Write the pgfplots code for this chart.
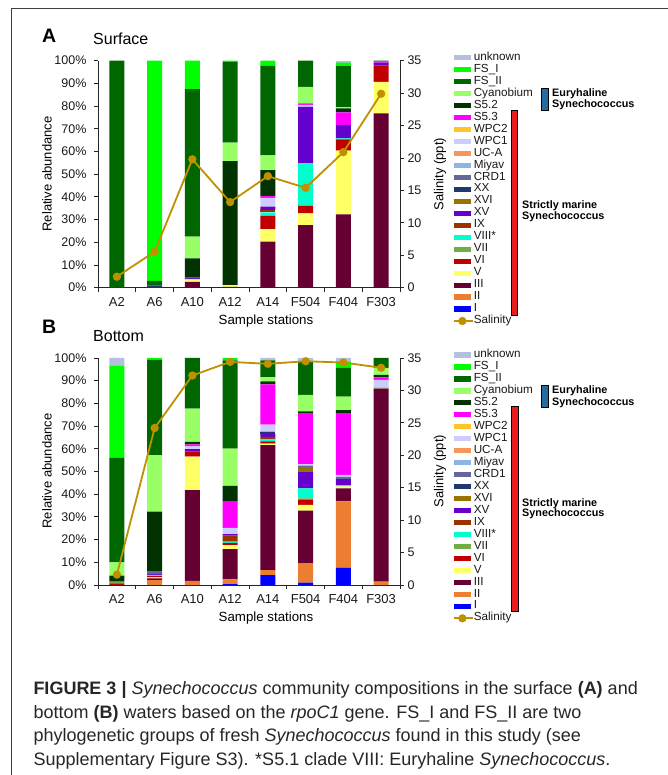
\documentclass[border=0pt]{standalone}
\usepackage{fontspec}
\setmainfont{Liberation Sans}
\usepackage{pgfplots}
\pgfplotsset{compat=1.18}
\usepackage{pgfplotstable}

\definecolor{cunk}{RGB}{180,192,222}
\definecolor{cFSa}{RGB}{0,255,0}
\definecolor{cFSb}{RGB}{0,102,0}
\definecolor{cCy}{RGB}{153,255,102}
\definecolor{cSb}{RGB}{0,51,0}
\definecolor{cSc}{RGB}{255,0,255}
\definecolor{cWPb}{RGB}{255,196,40}
\definecolor{cWPa}{RGB}{204,204,255}
\definecolor{cUCA}{RGB}{247,150,90}
\definecolor{cMiy}{RGB}{141,180,226}
\definecolor{cCRD}{RGB}{102,102,153}
\definecolor{cXX}{RGB}{31,56,110}
\definecolor{cXVI}{RGB}{153,115,0}
\definecolor{cXV}{RGB}{102,0,204}
\definecolor{cIX}{RGB}{153,51,0}
\definecolor{cVIII}{RGB}{0,255,204}
\definecolor{cVII}{RGB}{112,173,71}
\definecolor{cVI}{RGB}{192,0,0}
\definecolor{cV}{RGB}{255,255,102}
\definecolor{cIII}{RGB}{102,0,51}
\definecolor{cII}{RGB}{237,125,49}
\definecolor{cI}{RGB}{0,0,255}
\definecolor{csal}{RGB}{191,144,0}
\definecolor{cbox}{RGB}{35,110,160}
\definecolor{cred}{RGB}{232,30,30}

% columns: I II III V VI VII VIII IX | XV XVI XX CRD Miy UCA WPa WPb | Sc Sb Cy FSb FSa unk
\pgfplotstableread{
x I II III V VI VII VIII IX XV XVI XX CRD Miy UCA WPa WPb Sc Sb Cy FSb FSa unk
0 0 0 0 0 0 0 0 0    0 0 0 0 0 0 0 0    0 0 0 100 0 0
1 0 0 0 0 0 0 0 0    0 0 1.0 0 0 0 0 0    0 0 0 2.0 97.0 0
2 0 0 2.6 1.0 0 0 0.3 0    0.5 0 0.4 0 0 0 0 0    0 8.1 9.6 65.0 12.5 0
3 0 0 0.4 0.7 0 0 0 0    0 0 0 0 0 0 0 0    0 54.7 8.1 35.7 0.4 0
4 0 0 20.3 5.5 5.8 0 1.6 1.0    1.5 0 0 0 0 0 3.9 0    0.9 11.3 6.5 39.4 2.3 0
5 0 0 27.6 5.1 3.3 0 18.8 0    24.9 0 0 0 0 0 0.8 0    0.7 0 7.3 11.5 0 0
6 0 0 32.3 28.1 4.9 0 0.5 0    5.9 0 0 0 0 0 0 0    5.5 1.8 0.5 18.1 1.5 0.9
7 0 0 76.8 13.9 7.1 0 0 0    1.3 0 0 0 0 0 0 0    0.5 0 0 0.4 0 0
}\surf

\pgfplotstableread{
x I II III V VI VII VIII IX XV XVI XX CRD Miy UCA WPa WPb Sc Sb Cy FSb FSa unk
0 0 0 0 0 0.7 0.8 0 0    0 0 0 0 0 0 0 0    0 2.6 5.9 46.0 40.5 3.5
1 0 2.2 0.7 0.5 0.5 0 0.6 0    0.6 0 0 0.8 0 0 0 0    0 26.4 24.9 42.1 0.7 0
2 0 1.8 40.0 14.7 2.2 0 0 0    1.1 0 0 0 0 0 1.3 0    0.9 1.0 14.7 22.3 0 0
3 0.4 2.1 13.3 1.8 1.0 0 0.5 2.6    0.7 0 0 0 0 0 2.8 0    11.5 7.0 16.4 38.9 1.0 0
4 4.4 2.2 55.0 0.7 1.0 0 0.8 1.1    1.5 0 0.7 0 0.5 0 2.8 0    17.7 1.3 1.9 7.4 0 1.0
5 1.0 8.6 23.2 2.5 2.2 0.7 4.4 0    7.1 2.1 0 0.8 0 0 0.6 0    22.5 0.8 7.3 14.7 0 1.5
6 7.6 29.2 5.8 0.8 0 0 0.6 0    2.6 0 0 1.0 0 0 0.9 0    27.2 1.3 6.0 12.6 2.9 1.5
7 0 1.5 85.0 0 0 0.5 0 0    0 0 0 0 0 0 3.4 0    1.1 1.1 3.0 4.4 0 0
}\bott

\newcommand\onebar[2]{\addplot[fill=c#2, draw=none] table[x=x,y=#2]{#1};}
\newcommand\clades[1]{%
\onebar{#1}{I}\onebar{#1}{II}\onebar{#1}{III}\onebar{#1}{V}\onebar{#1}{VI}\onebar{#1}{VII}\onebar{#1}{VIII}\onebar{#1}{IX}%
\onebar{#1}{XV}\onebar{#1}{XVI}\onebar{#1}{XX}\onebar{#1}{CRD}\onebar{#1}{Miy}\onebar{#1}{UCA}\onebar{#1}{WPa}\onebar{#1}{WPb}%
\onebar{#1}{Sc}\onebar{#1}{Sb}\onebar{#1}{Cy}\onebar{#1}{FSb}\onebar{#1}{FSa}\onebar{#1}{unk}}

\newcommand\patch[2]{\addlegendimage{draw=none, mark=none, fill=none, legend image code/.code={\path[fill=#1, draw=none] (0pt,-2.6pt) rectangle (17pt,2.6pt); \path (0pt,0pt) -- (19pt,0pt);}}\addlegendentry{#2}}
\newcommand\legendall{%
\patch{cunk}{unknown}\patch{cFSa}{FS\_I}\patch{cFSb}{FS\_II}\patch{cCy}{Cyanobium}%
\patch{cSb}{S5.2}\patch{cSc}{S5.3}\patch{cWPb}{WPC2}\patch{cWPa}{WPC1}\patch{cUCA}{UC-A}%
\patch{cMiy}{Miyav}\patch{cCRD}{CRD1}\patch{cXX}{XX}\patch{cXVI}{XVI}\patch{cXV}{XV}%
\patch{cIX}{IX}\patch{cVIII}{VIII*}\patch{cVII}{VII}\patch{cVI}{VI}\patch{cV}{V}%
\patch{cIII}{III}\patch{cII}{II}\patch{cI}{I}}

\newcommand\tfont{\fontsize{12.5}{14}\selectfont}
\pgfplotsset{
  common/.style={scale only axis, width=302pt, height=227pt, anchor=south west,
    xmin=-0.5, xmax=7.5, tick align=outside, major tick length=4pt, minor tick length=4pt,
    axis line style={black!85, line width=0.9pt}, tick style={black!85, line width=0.9pt},
    ticklabel style={font=\tfont, text=black!90}},
  barax/.style={common, ymin=0, ymax=100, ybar stacked, bar width=15pt,
    axis x line*=bottom, axis y line*=left,
    xtick={0,...,7}, xticklabels={A2,A6,A10,A12,A14,F504,F404,F303},
    xticklabel style={font=\fontsize{13}{15}\selectfont, yshift=-2pt},
    yticklabel style={xshift=-4pt},
    minor xtick={-0.5,0.5,...,7.5}, major x tick style={draw=none},
    ytick={0,10,...,100},
    yticklabels={0\%,10\%,20\%,30\%,40\%,50\%,60\%,70\%,80\%,90\%,100\%}},
  salax/.style={common, ymin=0, ymax=35, axis x line=none, axis y line*=right, clip=false,
    ytick={0,5,...,35}, yticklabels={0,5,10,15,20,25,30,35},
    legend cell align=left,
    legend style={at={(1.1755,1.0396)}, anchor=north west, draw=none, fill=none,
      inner sep=0pt, outer sep=0pt, row sep=0pt,
      font=\fontsize{11.7}{12}\selectfont, text=black!90,
      nodes={inner xsep=0pt, inner ysep=0pt, text height=8.6pt, text depth=3.37pt}}},
  salplot/.style={csal, line width=1.8pt, mark=*, mark size=3.2pt, mark options={solid, fill=csal},
    legend image code/.code={\draw[mark repeat=2,mark phase=2,##1] plot coordinates {(0pt,0pt) (8.5pt,0pt) (17pt,0pt)}; \path (0pt,0pt) -- (19pt,0pt);}}
}

\begin{document}
\begin{tikzpicture}[x=1pt,y=1pt]
\path[use as bounding box] (0,0) rectangle (668,775);
\draw[black!75, line width=1pt] (11,0) -- (11,766) -- (668,766);

% ---------- A: surface ----------
\begin{axis}[barax, at={(98pt,487.3pt)}]
\clades{\surf}
\end{axis}
\begin{axis}[salax, at={(98pt,487.3pt)}]
\legendall
\addplot[salplot] coordinates {(0,1.7) (1,5.55) (2,19.8) (3,13.2) (4,17.2) (5,15.4) (6,20.9) (7,29.9)};
\addlegendentry{Salinity}
\end{axis}

% ---------- B: bottom ----------
\begin{axis}[barax, at={(98pt,190pt)}]
\clades{\bott}
\end{axis}
\begin{axis}[salax, at={(98pt,190pt)}]
\legendall
\addplot[salplot] coordinates {(0,1.6) (1,24.2) (2,32.3) (3,34.4) (4,34.1) (5,34.5) (6,34.3) (7,33.5)};
\addlegendentry{Salinity}
\end{axis}

% panel labels and titles
\node[anchor=base west, inner sep=0pt, font=\bfseries\fontsize{19.5}{20}\selectfont] at (42,732) {A};
\node[anchor=base west, inner sep=0pt, font=\fontsize{16}{18}\selectfont] at (93,730) {Surface};
\node[anchor=base west, inner sep=0pt, font=\bfseries\fontsize{19.5}{20}\selectfont] at (42,441.7) {B};
\node[anchor=base west, inner sep=0pt, font=\fontsize{16}{18}\selectfont] at (93,433.3) {Bottom};

% axis titles
\foreach \yy in {601,304}{
  \node[rotate=90, inner sep=0pt, font=\fontsize{13}{15}\selectfont] at (47,\yy) {Relative abundance};
  \node[rotate=90, inner sep=0pt, font=\fontsize{13}{15}\selectfont] at (440,\yy) {Salinity (ppt)};
}
\node[anchor=base, inner sep=0pt, font=\fontsize{13.3}{15}\selectfont] at (266,450) {Sample stations};
\node[anchor=base, inner sep=0pt, font=\fontsize{13.3}{15}\selectfont] at (266,153) {Sample stations};

% group brackets
\draw[black, line width=0.8pt, fill=cbox] (541.7,686.7) rectangle (548.3,664.3);
\draw[black, line width=0.8pt, fill=cred] (511,664.3) rectangle (517.7,460);
\draw[black, line width=0.8pt, fill=cbox] (541.7,390) rectangle (548.3,367.3);
\draw[black, line width=0.8pt, fill=cred] (511.7,368.3) rectangle (518.3,163.3);
\begin{scope}[every node/.style={anchor=west, inner sep=0pt, font=\bfseries\fontsize{10.8}{12}\selectfont}]
\node at (552,681) {Euryhaline};
\node at (552,670) {Synechococcus};
\node at (522,569.3) {Strictly marine};
\node at (522,558.3) {Synechococcus};
\node at (552,384) {Euryhaline};
\node at (552,372.7) {Synechococcus};
\node at (522,271.7) {Strictly marine};
\node at (522,261.7) {Synechococcus};
\end{scope}

% caption
\begin{scope}[every node/.style={anchor=base west, inner sep=0pt, text=black!85, font=\fontsize{18}{20}\selectfont}]
\node at (33.3,80.5) {\textbf{FIGURE 3 |} \textit{Synechococcus} community compositions in the surface \textbf{(A)} and};
\node at (33.3,56.7) {bottom \textbf{(B)} waters based on the \textit{rpoC1} gene. FS\_I and FS\_II are two};
\node at (33.3,33.2) {phylogenetic groups of fresh \textit{Synechococcus} found in this study (see};
\node at (33.3,9.7) {Supplementary Figure S3). *S5.1 clade VIII: Euryhaline \textit{Synechococcus}.};
\end{scope}
\end{tikzpicture}
\end{document}
